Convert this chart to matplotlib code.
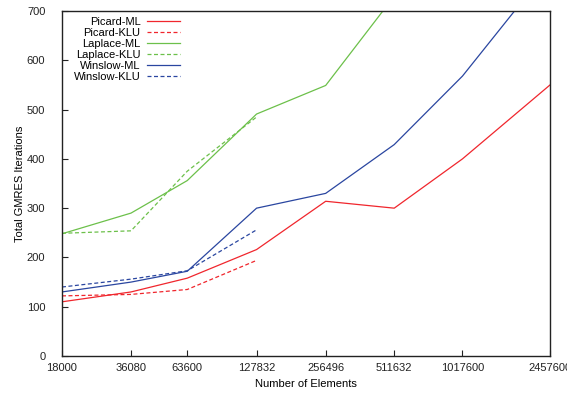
import matplotlib
matplotlib.use("Agg")
import matplotlib.pyplot as plt

plt.rcParams['font.family'] = ['Liberation Sans', 'DejaVu Sans']

elements = [18000, 36080, 63600, 127832, 256496, 511632, 1017600, 2457600]
tick_labels = ['18000', '36080', '63600', '127832', '256496', '511632', '1017600', '2457600']

picard_ml = [110, 130, 158, 216, 314, 300, 400, 550]
picard_klu = [122, 125, 135, 194]
laplace_ml = [248, 290, 356, 491, 549, 730]
laplace_klu = [249, 254, 375, 485]
winslow_ml = [130, 150, 172, 300, 330, 429, 568, 790]
winslow_klu = [140, 156, 173, 256]

red = '#f0262d'
green = '#6cc04a'
blue = '#2a46a0'

fig = plt.figure(figsize=(5.67, 3.94), dpi=100)
ax = fig.add_axes([0.1093, 0.0964, 0.8607, 0.8756])

lw = 0.9
dash = (0, (3.2, 2.0))
ax.plot(elements[:len(picard_ml)], picard_ml, color=red, lw=lw, label='Picard-ML')
ax.plot(elements[:len(picard_klu)], picard_klu, color=red, lw=lw, ls=dash, label='Picard-KLU')
ax.plot(elements[:len(laplace_ml)], laplace_ml, color=green, lw=lw, label='Laplace-ML')
ax.plot(elements[:len(laplace_klu)], laplace_klu, color=green, lw=lw, ls=dash, label='Laplace-KLU')
ax.plot(elements[:len(winslow_ml)], winslow_ml, color=blue, lw=lw, label='Winslow-ML')
ax.plot(elements[:len(winslow_klu)], winslow_klu, color=blue, lw=lw, ls=dash, label='Winslow-KLU')

ax.set_xscale('log')
ax.set_xlim(elements[0], elements[-1])
ax.set_ylim(0, 700)
ax.set_xticks(elements)
ax.set_xticklabels(tick_labels)
ax.minorticks_off()
ax.set_yticks(range(0, 701, 100))

ax.tick_params(direction='in', length=4, width=0.8, labelsize=8, colors='#222222')
ax.tick_params(axis='x', pad=5)
ax.tick_params(axis='y', pad=12)
for s in ax.spines.values():
    s.set_linewidth(1.0)
    s.set_color('#222222')

ax.set_xlabel('Number of Elements', fontsize=8, labelpad=4)
ax.set_ylabel('Total GMRES Iterations', fontsize=8, labelpad=1)

# gnuplot-style key: right-aligned text, sample line after it
leg = ax.legend(loc='upper left', bbox_to_anchor=(0.008, 1.005), frameon=False,
                markerfirst=False, fontsize=8, handlelength=3.0,
                labelspacing=0.09, handletextpad=0.6, borderaxespad=0.3)
for t in leg.get_texts():
    t.set_ha('right')

fig.savefig('out.png', dpi=100)
